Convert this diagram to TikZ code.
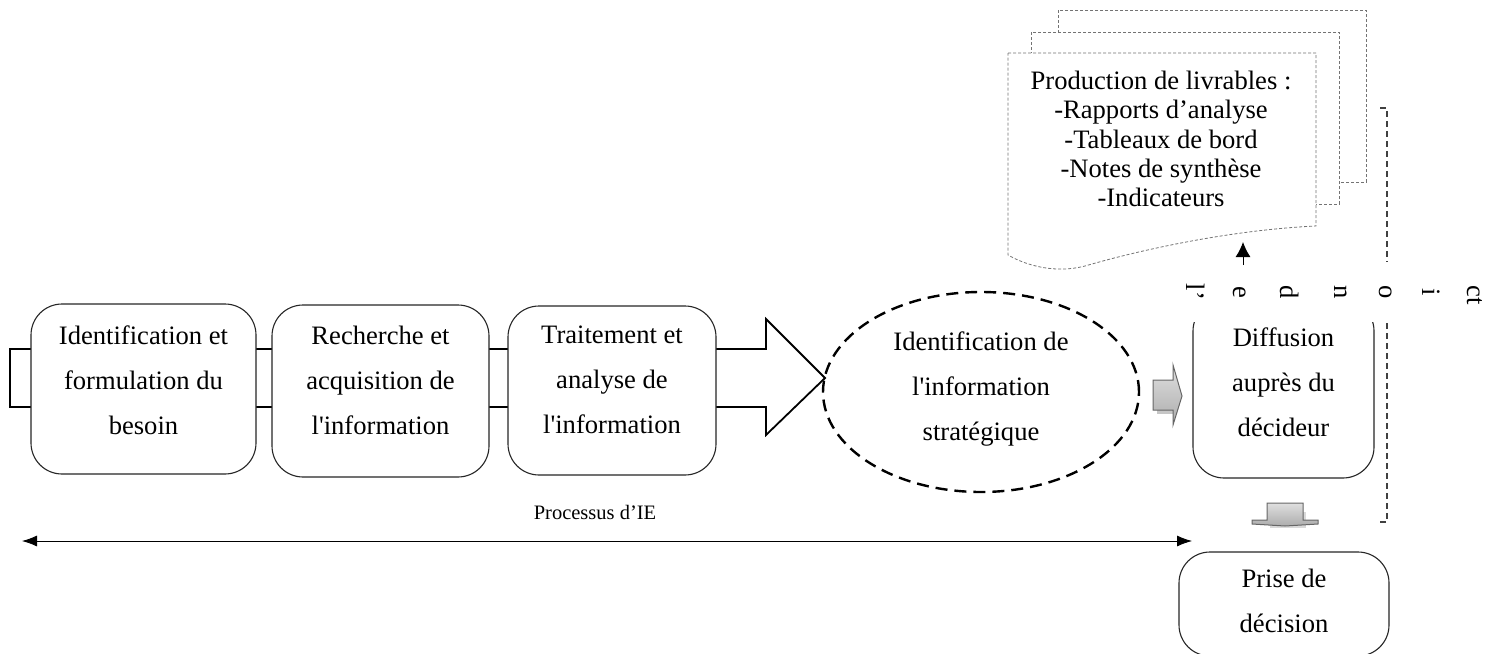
\documentclass[tikz,border=0pt]{standalone}
\usepackage{fontspec}
\setmainfont{Liberation Serif}[Ligatures=TeXOff]
\usetikzlibrary{arrows.meta,shapes.geometric}
\begin{document}
\begin{tikzpicture}[x=1pt,y=-1pt,
  stepbox/.style={draw=black!85, line width=1.1pt, rounded corners=31pt, fill=white, inner sep=0pt},
  btxt/.style={align=center, font=\fontsize{26.6}{45}\selectfont, inner sep=0pt},
  dtxt/.style={align=center, font=\fontsize{26.6}{29.3}\selectfont, inner sep=0pt},
  rlet/.style={font=\fontsize{26.6}{30}\selectfont, inner sep=0pt, rotate=-90},
  docline/.style={draw=black!55, line width=0.8pt, dash pattern=on 3pt off 2pt, fill=white},
  grayarrow/.style={draw=black!60, line width=1pt, top color=gray!25, bottom color=gray!65},
  tip/.style={-{Latex[length=15pt,width=15pt]}}
]
\useasboundingbox (0,0) rectangle (1490,653);

% big block arrow
\draw[line width=1.8pt, fill=white] (10,349) -- (766,349) -- (766,319) -- (825,378)
  -- (766,435) -- (766,407) -- (10,407) -- cycle;

% process boxes
\node[stepbox, minimum width=225pt, minimum height=170pt] (b1) at (143.5,389) {};
\node[btxt] (t1) at (143.5,380) {Identification et\\formulation du\\besoin};
\node[stepbox, minimum width=217pt, minimum height=172pt] (b2) at (380.5,391) {};
\node[btxt] (t2) at (380.5,380) {Recherche et\\acquisition de\\l'information};
\node[stepbox, minimum width=208pt, minimum height=169pt] (b3) at (612,390.5) {};
\node[btxt] (t3) at (612,380) {Traitement et\\analyse de\\l'information};

% ellipse
\node[ellipse, draw, line width=2.4pt, dash pattern=on 12pt off 7pt,
  minimum width=316pt, minimum height=200pt, inner sep=0pt] (ell) at (981,392) {};
\node[btxt] (te) at (981,389) {Identification de\\l'information\\stratégique};

% document stack
\draw[docline] (1058,10) rectangle (1366,182);
\draw[docline] (1031,32) rectangle (1339,204);
\draw[docline] (1008,53) -- (1316,53) -- (1316,226)
  .. controls (1230,230) and (1140,250) .. (1085,266)
  .. controls (1050,275) and (1020,262) .. (1008,255) -- cycle;
\node[dtxt] (doc) at (1161,139) {Production de livrables :\\-Rapports d’analyse\\-Tableaux de bord\\-Notes de synthèse\\-Indicateurs};

% up arrow
\coordinate (ua) at (1243,265);
\coordinate (ub) at (1243,242);
\draw[tip, line width=1pt] (ua) -- (ub);

% rotated letters
\node[rlet] (r1) at (1196,292) {l’};
\node[rlet] (r2) at (1240,292) {e};
\node[rlet] (r3) at (1290,292) {d};
\node[rlet] (r4) at (1341,292) {n};
\node[rlet] (r5) at (1386,292) {o};
\node[rlet] (r6) at (1431,292) {i};
\node[rlet] (r7) at (1475,295) {ct};

% dashed bracket
\draw[black!75, line width=1.2pt, dash pattern=on 6pt off 4pt] (1380,108) -- (1387,108) -- (1387,262);
\draw[black!75, line width=1.2pt, dash pattern=on 6pt off 4pt] (1387,323) -- (1387,522) -- (1380,522);

% diffusion box (top hidden)
\begin{scope}
\clip (1150,322) rectangle (1420,500);
\node[stepbox, minimum width=181pt, minimum height=178pt] (b4) at (1283.5,389) {};
\end{scope}
\node[btxt] (t4) at (1283.5,382) {Diffusion\\auprès du\\décideur};

% gray arrows
\fill[gray!45] (1157,384) rectangle (1177,414);
\draw[grayarrow] (1153,380) -- (1173,380) -- (1173,365) -- (1182,396) -- (1173,425) -- (1173,410) -- (1153,410) -- cycle;
\fill[gray!30] (1270,512) rectangle (1306,528);
\draw[grayarrow] (1267,503) -- (1303,503) -- (1303,520) -- (1318,520) -- (1318,524)
  -- (1285,526) -- (1252,524) -- (1252,520) -- (1267,520) -- cycle;

% prise de decision
\node[stepbox, minimum width=210pt, minimum height=104pt] (b5) at (1284,604) {};
\node[btxt] (t5) at (1284,601) {Prise de\\décision};

% process arrow
\coordinate (pl) at (22,541);
\coordinate (pr) at (1192,541);
\draw[{Latex[length=15pt,width=11pt]}-{Latex[length=15pt,width=11pt]}, line width=0.8pt] (pl) -- (pr);
\node[font=\fontsize{20.5}{24}\selectfont, inner sep=0pt] (proc) at (595,512) {Processus d’IE};
\end{tikzpicture}
\end{document}
